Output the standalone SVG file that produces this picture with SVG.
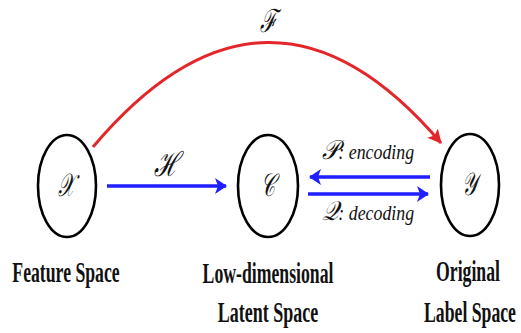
<svg xmlns="http://www.w3.org/2000/svg" width="521" height="333" viewBox="0 0 521 333">
<defs>
<style>
.node ellipse{fill:none;stroke:#000;stroke-width:2.6}
.sym{font-family:"DejaVu Serif","Liberation Serif",serif;font-style:italic;font-size:32px;text-anchor:middle;fill:#111}
.lab{font-family:"Liberation Serif",serif;font-weight:bold;font-size:30px;text-anchor:middle;fill:#111}
.el{font-family:"Liberation Serif",serif;font-style:italic;font-size:21px;text-anchor:middle;fill:#111}
.el .s{font-family:"DejaVu Serif","Liberation Serif",serif;font-size:27px}
.blue{stroke:#1f1fff;stroke-width:3.6;fill:none}
.red{stroke:#e4262b;stroke-width:3;fill:none}
</style>
<marker id="ab" viewBox="0 0 12 16" refX="11" refY="8" markerWidth="12" markerHeight="16" markerUnits="userSpaceOnUse" orient="auto">
<path d="M0,0 L12,8 L0,16 L3,8 Z" fill="#1f1fff"/>
</marker>
<marker id="ar" viewBox="0 0 14 14" refX="13" refY="7" markerWidth="14" markerHeight="14" markerUnits="userSpaceOnUse" orient="auto">
<path d="M0,0 L14,7 L0,14 L3,7 Z" fill="#e4262b"/>
</marker>
</defs>
<rect width="521" height="333" fill="#fff"/>
<g id="connectors">
<path class="red" d="M93,147 Q268,-60 441,143" marker-end="url(#ar)"/>
<line class="blue" x1="107" y1="186" x2="226" y2="186" marker-end="url(#ab)"/>
<line class="blue" x1="430" y1="177" x2="310" y2="177" marker-end="url(#ab)"/>
<line class="blue" x1="308" y1="194" x2="428" y2="194" marker-end="url(#ab)"/>
<text class="sym" transform="translate(268,32) scale(0.65,1)">ℱ</text>
<text class="sym" transform="translate(167,176) scale(0.7,1)" style="font-size:34px">ℋ</text>
<text class="el" transform="translate(368,159) scale(0.85,1)"><tspan class="s">𝒫</tspan>: encoding</text>
<text class="el" transform="translate(368,220) scale(0.85,1)"><tspan class="s">𝒬</tspan>: decoding</text>
</g>
<g id="feature" class="node">
<ellipse cx="67" cy="186" rx="29" ry="51"/>
<text class="sym" transform="translate(66,196) scale(0.6,1)">𝒳</text>
<text class="lab" transform="translate(66,282) scale(0.59,1)">Feature Space</text>
</g>
<g id="latent" class="node">
<ellipse cx="268" cy="186" rx="30" ry="51"/>
<text class="sym" transform="translate(268,196) scale(0.6,1)">𝒞</text>
<text class="lab" transform="translate(268,283) scale(0.59,1)">Low-dimensional</text>
<text class="lab" transform="translate(268,322) scale(0.6,1)">Latent Space</text>
</g>
<g id="label" class="node">
<ellipse cx="470" cy="185" rx="29" ry="51"/>
<text class="sym" transform="translate(470,195) scale(0.6,1)">𝒴</text>
<text class="lab" transform="translate(468,281) scale(0.59,1)">Original</text>
<text class="lab" transform="translate(470,322) scale(0.59,1)">Label Space</text>
</g>
</svg>
